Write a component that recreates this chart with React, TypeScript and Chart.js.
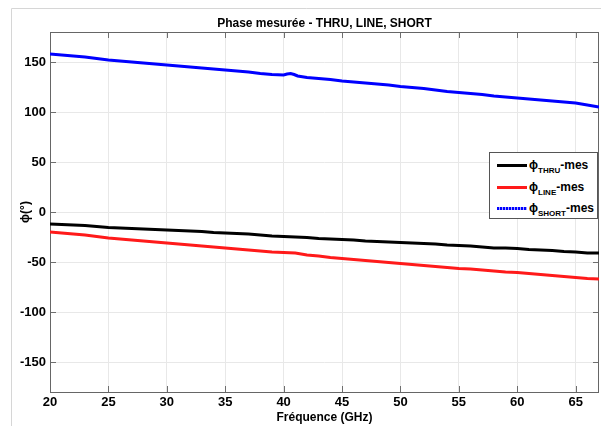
import React, { useEffect, useRef } from "react";
import { Chart, registerables } from "chart.js";

Chart.register(...registerables);

// ---------- data ----------
const freqGHz = [
  20, 21, 22, 23, 24, 25, 26, 27, 28, 29, 30, 31, 32, 33, 34, 35, 36, 37, 38, 39,
  40, 41, 42, 43, 44, 45, 46, 47, 48, 49, 50, 51, 52, 53, 54, 55, 56, 57, 58, 59,
  60, 61, 62, 63, 64, 65, 66, 67,
];
const thruPhase = [
  -12, -12.5, -13, -13.5, -14.5, -15.5, -16, -16.5, -17, -17.5, -18, -18.5, -19, -19.5, -20.5, -21, -21.5, -22, -23, -24,
  -24.5, -25, -25.5, -26.5, -27, -27.5, -28, -29, -29.5, -30, -30.5, -31, -31.5, -32, -33, -33.5, -34, -35, -36, -36,
  -36.5, -37.5, -38, -38.5, -39.5, -40, -41, -41,
];
const linePhase = [
  -20, -21, -22, -23, -24.5, -26, -27, -28, -29, -30, -31, -32, -33, -34, -35, -36, -37, -38, -39, -40,
  -40.5, -41, -43, -44, -45.5, -46.5, -47.5, -48.5, -49.5, -50.5, -51.5, -52.5, -53.5, -54.5, -55.5, -56.5, -57, -58, -59, -60,
  -60.5, -61.5, -62.5, -63.5, -64.5, -65.5, -66.5, -67,
];
const shortFreq = [
  20, 21, 22, 23, 24, 25, 26, 27, 28, 29, 30, 31, 32, 33, 34, 35, 36, 37, 38, 39,
  40, 40.3, 40.6, 40.9, 41.2, 42, 43, 44, 45, 46, 47, 48, 49, 50, 51, 52, 53, 54, 55, 56,
  57, 58, 59, 60, 61, 62, 63, 64, 65, 66, 67,
];
const shortPhase = [
  158, 157, 156, 155, 153.5, 152, 151, 150, 149, 148, 147, 146, 145, 144, 143, 142, 141, 140, 138.5, 137.5,
  137, 138, 138.5, 137.5, 136, 134.5, 133.5, 132.5, 131, 130, 129, 128, 127, 125.5, 124.5, 123.5, 122, 120.5, 119.5, 118.5,
  117.5, 116, 115, 114, 113, 112, 111, 110, 109, 107, 105,
];
const xTicks = [20, 25, 30, 35, 40, 45, 50, 55, 60, 65];
const yTicks = [-150, -100, -50, 0, 50, 100, 150];
const seriesNames = ["THRU", "LINE", "SHORT"];
const seriesColors = ["#000000", "#ff1a1a", "#0000ff"];
const titleText = "Phase mesurée - THRU, LINE, SHORT";
const xTitle = "Fréquence (GHz)";
const yTitle = "ϕ(°)";

const FONT = "'Liberation Sans', Arial, Helvetica, sans-serif";

const decorPlugin = {
  id: "decor",
  beforeDraw(chart: any) {
    const ctx = chart.ctx;
    ctx.save();
    ctx.fillStyle = "#ffffff";
    ctx.fillRect(0, 0, chart.width, chart.height);
    ctx.strokeStyle = "#d6d6d6";
    ctx.lineWidth = 1;
    ctx.beginPath();
    ctx.moveTo(11.5, chart.height);
    ctx.lineTo(11.5, 8.5);
    ctx.lineTo(chart.width, 8.5);
    ctx.stroke();
    ctx.restore();
  },
  beforeDatasetsDraw(chart: any) {
    const ctx = chart.ctx;
    const a = chart.chartArea;
    const sx = chart.scales.x;
    const sy = chart.scales.y;
    ctx.save();
    ctx.strokeStyle = "#6e6e6e";
    ctx.lineWidth = 1;
    ctx.beginPath();
    for (const v of xTicks) {
      const px = Math.round(sx.getPixelForValue(v)) + 0.5;
      ctx.moveTo(px, a.top);
      ctx.lineTo(px, a.top + 6);
      ctx.moveTo(px, a.bottom);
      ctx.lineTo(px, a.bottom - 6);
    }
    for (const v of yTicks) {
      const py = Math.round(sy.getPixelForValue(v)) + 0.5;
      ctx.moveTo(a.left, py);
      ctx.lineTo(a.left + 6, py);
      ctx.moveTo(a.right, py);
      ctx.lineTo(a.right - 6, py);
    }
    ctx.stroke();
    ctx.strokeStyle = "#666666";
    ctx.strokeRect(Math.round(a.left) + 0.5, Math.round(a.top) + 0.5, Math.round(a.right - a.left) - 1, Math.round(a.bottom - a.top));
    ctx.restore();
  },
  afterDraw(chart: any) {
    const ctx = chart.ctx;
    const a = chart.chartArea;
    ctx.save();
    ctx.fillStyle = "#000";
    ctx.font = `bold 12px ${FONT}`;
    ctx.textAlign = "center";
    ctx.textBaseline = "middle";
    ctx.fillText(titleText, (a.left + a.right) / 2, 24);
    ctx.restore();
  },
};

export default function App() {
  const ref = useRef<HTMLCanvasElement | null>(null);

  useEffect(() => {
    if (!ref.current) return;
    const mk = (xs: number[], ys: number[]) => xs.map((x, i) => ({ x, y: ys[i] }));
    const chart = new Chart(ref.current, {
      type: "line",
      data: {
        datasets: [
          { label: seriesNames[0], data: mk(freqGHz, thruPhase), borderColor: seriesColors[0], borderWidth: 3, pointRadius: 0, tension: 0 },
          { label: seriesNames[1], data: mk(freqGHz, linePhase), borderColor: seriesColors[1], borderWidth: 3, pointRadius: 0, tension: 0 },
          { label: seriesNames[2], data: mk(shortFreq, shortPhase), borderColor: seriesColors[2], borderWidth: 3, pointRadius: 0, tension: 0 },
        ],
      },
      options: {
        animation: false,
        responsive: false,
        maintainAspectRatio: false,
        layout: { padding: { top: 32, right: 2, left: 0, bottom: 0 } },
        plugins: { legend: { display: false }, tooltip: { enabled: false }, title: { display: false } },
        scales: {
          x: {
            type: "linear",
            min: 20,
            max: 67,
            afterBuildTicks: (s: any) => { s.ticks = xTicks.map((v) => ({ value: v })); },
            afterFit: (s: any) => { s.height = 34; },
            grid: { color: "#e8e8e8", drawTicks: false },
            border: { display: false },
            ticks: { color: "#000", padding: 3, font: { family: FONT, size: 13, weight: "bold" }, maxRotation: 0 },
            title: { display: true, text: xTitle, color: "#000", font: { family: FONT, size: 12, weight: "bold" }, padding: { top: 0, bottom: 1 } },
          },
          y: {
            type: "linear",
            min: -180,
            max: 180,
            afterBuildTicks: (s: any) => { s.ticks = yTicks.map((v) => ({ value: v })); },
            afterFit: (s: any) => { s.width = 50; },
            grid: { color: "#e8e8e8", drawTicks: false },
            border: { display: false },
            ticks: { color: "#000", padding: 4, font: { family: FONT, size: 13, weight: "bold" } },
            title: { display: true, text: yTitle, color: "#000", font: { family: FONT, size: 12, weight: "bold" }, padding: { top: 18, bottom: 0 } },
          },
        },
      },
      plugins: [decorPlugin],
    } as any);
    return () => chart.destroy();
  }, []);

  const rowTops = [12, 34, 55];

  return (
    <div style={{ position: "absolute", left: 0, top: 0, width: 601, height: 426, background: "#fff" }}>
      <canvas ref={ref} width={601} height={426} style={{ width: 601, height: 426, display: "block" }} />
      <div
        style={{
          position: "absolute",
          left: 489,
          top: 152,
          width: 109,
          height: 67,
          boxSizing: "border-box",
          border: "1px solid #555",
          background: "#fff",
          fontFamily: FONT,
          fontWeight: "bold",
          color: "#000",
        }}
      >
        {seriesNames.map((name, i) => (
          <div key={name} style={{ position: "absolute", left: 0, top: rowTops[i] - 8, height: 16, width: "100%" }}>
            <div
              style={{
                position: "absolute",
                left: 7,
                top: 7,
                width: 30,
                height: 3,
                background:
                  i === 2
                    ? `repeating-linear-gradient(90deg, ${seriesColors[i]} 0 2px, rgba(0,0,255,0.35) 2px 3px)`
                    : seriesColors[i],
              }}
            />
            <div style={{ position: "absolute", left: 39, top: 0, fontSize: 12, lineHeight: "16px", whiteSpace: "nowrap" }}>
              ϕ<sub style={{ fontSize: 8, verticalAlign: "-4px", lineHeight: 0 }}>{name}</sub>-mes
            </div>
          </div>
        ))}
      </div>
    </div>
  );
}
